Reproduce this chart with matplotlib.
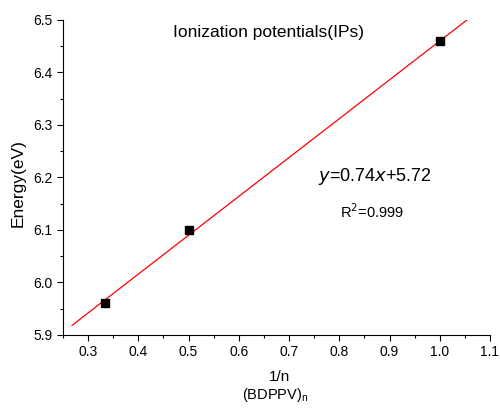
import numpy as np
import matplotlib.pyplot as plt
from matplotlib.ticker import MultipleLocator

plt.rcParams['font.family'] = ['Liberation Sans', 'DejaVu Sans']

# data
inv_n = [1/3, 0.5, 1.0]
energy = [5.96, 6.10, 6.46]
slope, intercept = 0.74, 5.72
fit_x = [0.268, 1.056]

fig = plt.figure(figsize=(5, 4.08), dpi=100)
ax = fig.add_axes([0.126, 0.179, 0.854, 0.772])

fx = np.array(fit_x)
ax.plot(fx, slope * fx + intercept, color='red', lw=0.9)
ax.plot(inv_n, energy, 's', color='black', ms=5.5)

ax.set_xlim(0.25, 1.1)
ax.set_ylim(5.9, 6.5)
ax.xaxis.set_major_locator(MultipleLocator(0.1))
ax.xaxis.set_minor_locator(MultipleLocator(0.05))
ax.yaxis.set_major_locator(MultipleLocator(0.1))
ax.yaxis.set_minor_locator(MultipleLocator(0.05))
ax.spines['top'].set_visible(False)
ax.spines['right'].set_visible(False)
ax.tick_params(which='both', direction='out', labelsize=10, width=0.8)
ax.tick_params(which='major', length=4)
ax.tick_params(which='minor', length=2.5)
ax.set_xticklabels([f'{v:.1f}' for v in ax.get_xticks()])

ax.text(0.66, 6.477, 'Ionization potentials(IPs)', ha='center', va='center', fontsize=12.5)
ax.text(0.87, 6.202, r'$\it{y}$=0.74$\it{x}$+5.72', ha='center', va='center', fontsize=13)
ax.text(0.865, 6.135, r'R$^2$=0.999', ha='center', va='center', fontsize=10.5)

fig.text(0.036, 0.551, 'Energy(eV)', rotation=90, ha='center', va='center', fontsize=12.5)
fig.text(0.56, 0.076, '1/n', ha='center', va='center', fontsize=11)
fig.text(0.55, 0.032, r'(BDPPV)$_\mathregular{n}$', ha='center', va='center', fontsize=10.5)

fig.savefig('out.png', dpi=100)
